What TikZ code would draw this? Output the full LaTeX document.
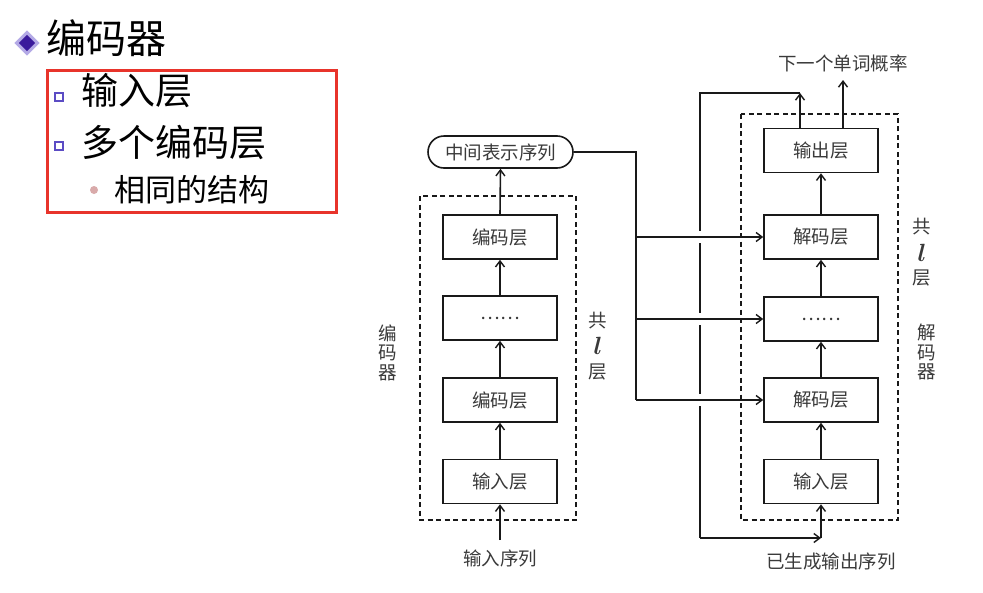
\documentclass[tikz,border=0pt]{standalone}
\usepackage{fontspec}
\setmainfont{Noto Sans CJK SC}
\usetikzlibrary{arrows.meta}
\definecolor{txtgray}{HTML}{3A3A3A}
\definecolor{redbox}{HTML}{E8342B}
\definecolor{diapurple}{HTML}{3A1A9C}
\definecolor{dialight}{HTML}{B4AAE6}
\definecolor{sqpurple}{HTML}{5B4CC4}
\definecolor{pinkdot}{HTML}{D9AAAA}
\tikzset{
  layerbox/.style={draw=black!90, line width=1.6pt, minimum width=114pt, minimum height=44pt, inner sep=0pt, text=txtgray, font=\fontsize{18.5}{18.5}\selectfont},
  dashbox/.style={draw=black!90, line width=1.5pt, dash pattern=on 5pt off 3.5pt},
  arr/.style={draw=black!90, line width=1.6pt, -{Straight Barb[length=6pt,width=9pt,line width=1.4pt]}},
  conn/.style={draw=black!90, line width=1.6pt},
  lbl/.style={text=txtgray, font=\fontsize{18.5}{18.5}\selectfont, inner sep=0pt},
  ital/.style={text=txtgray, font=\fontsize{23}{23}\selectfont\boldmath, inner sep=0pt},
  vlbl/.style={text=txtgray, font=\fontsize{18.5}{18.5}\selectfont, inner sep=0pt, align=center},
  lvlone/.style={anchor=west, inner sep=0pt, font=\fontsize{37}{37}\selectfont},
  lvltwo/.style={anchor=west, inner sep=0pt, font=\fontsize{31}{31}\selectfont}
}
\begin{document}
\begin{tikzpicture}[x=1pt,y=-1pt]
\useasboundingbox (0,0) rectangle (983,592);
\fill[white] (0,0) rectangle (983,592);

% ---- left slide text ----
\node[fill=dialight, minimum size=18pt, inner sep=0pt, rotate=45] (diaO) at (27,43) {};
\node[fill=diapurple, minimum size=11.5pt, inner sep=0pt, rotate=45] (diaI) at (27,43) {};
\node[anchor=west, inner sep=0pt, font=\fontsize{40}{40}\selectfont] (title) at (46,38) {编码器};
\node[draw=redbox, line width=3pt, minimum width=289pt, minimum height=142pt, inner sep=0pt] (red) at (192,141.5) {};
\node[draw=sqpurple, line width=1.4pt, minimum size=8pt, inner sep=0pt] (sq1) at (59,97) {};
\node[draw=sqpurple, line width=1.4pt, minimum size=8pt, inner sep=0pt] (sq2) at (59,146) {};
\node[lvlone] (t1) at (81,91) {输入层};
\node[lvlone] (t2) at (81,142.5) {多个编码层};
\node[fill=pinkdot, circle, minimum size=8pt, inner sep=0pt] (dot) at (94,190) {};
\node[lvltwo] (t3) at (114,190) {相同的结构};

% ---- encoder ----
\draw[dashbox] (420,196) rectangle (576,520);
\node[draw=black!90, line width=1.6pt, rounded corners=16pt, minimum width=145pt, minimum height=32pt, inner sep=0pt, text=txtgray, font=\fontsize{18.5}{18.5}\selectfont] (mid) at (500.5,152) {中间表示序列};
\node[layerbox] (e3) at (500,237) {编码层};
\node[layerbox] (e2) at (500,318) {……};
\node[layerbox] (e1) at (500,400) {编码层};
\node[layerbox] (e0) at (500,481.5) {输入层};
\node[lbl] (inseq) at (500,558) {输入序列};
\coordinate (inL) at (500,540);
\draw[arr] (inL) -- (e0.south);
\draw[arr] (e0.north) -- (e1.south);
\draw[arr] (e1.north) -- (e2.south);
\draw[arr] (e2.north) -- (e3.south);
\draw[arr] (e3.north) -- (mid.south);
\node[vlbl] (encl) at (388,352.5) {编\\[1pt]码\\[1pt]器};
\node[lbl] (lg1) at (598,321) {共};
\node[ital] (ll1) at (598,346) {$l$};
\node[lbl] (lc1) at (598,372) {层};

% ---- decoder ----
\draw[dashbox] (741,114) rectangle (898,520);
\node[layerbox] (outl) at (821,150.5) {输出层};
\node[layerbox] (d3) at (821,237) {解码层};
\node[layerbox] (d2) at (821,319) {……};
\node[layerbox] (d1) at (821,400) {解码层};
\node[layerbox] (d0) at (821,481.5) {输入层};
\draw[arr] (d0.north) -- (d1.south);
\draw[arr] (d1.north) -- (d2.south);
\draw[arr] (d2.north) -- (d3.south);
\draw[arr] (d3.north) -- (outl.south);
\node[lbl] (nextw) at (843,63) {下一个单词概率};
\node[lbl] (genseq) at (831,561) {已生成输出序列};
\node[lbl] (rg1) at (922,227) {共};
\node[ital] (rl1) at (922,253) {$l$};
\node[lbl] (rc1) at (922,278) {层};
\node[vlbl] (decl) at (927,352) {解\\[1pt]码\\[1pt]器};

\coordinate (o2top) at (843,80);
\draw[arr] (outl.north -| o2top) -- (o2top);
\coordinate (fbtop) at (800,93);
\draw[arr] (outl.north -| fbtop) -- (fbtop);
\coordinate (fbbot) at (821,538);
\coordinate (fbL1) at (700,93);
\coordinate (fbL2) at (700,538);
\draw[conn] (fbtop) -- (fbL1) -- (700,231);
\draw[conn] (700,243) -- (700,313);
\draw[conn] (700,325) -- (700,394);
\draw[conn] (700,406) -- (fbL2);
\draw[arr] (fbL2) -- (fbbot);
\draw[arr] (fbbot) -- (d0.south);

% ---- encoder to decoder ----
\coordinate (br0) at (636,152);
\coordinate (br1) at (636,237);
\coordinate (br2) at (636,319);
\coordinate (br3) at (636,400);
\draw[conn] (mid.east) -- (br0) -- (br3);
\draw[arr] (br1) -- (d3.west);
\draw[arr] (br2) -- (d2.west);
\draw[arr] (br3) -- (d1.west);
\end{tikzpicture}
\end{document}
